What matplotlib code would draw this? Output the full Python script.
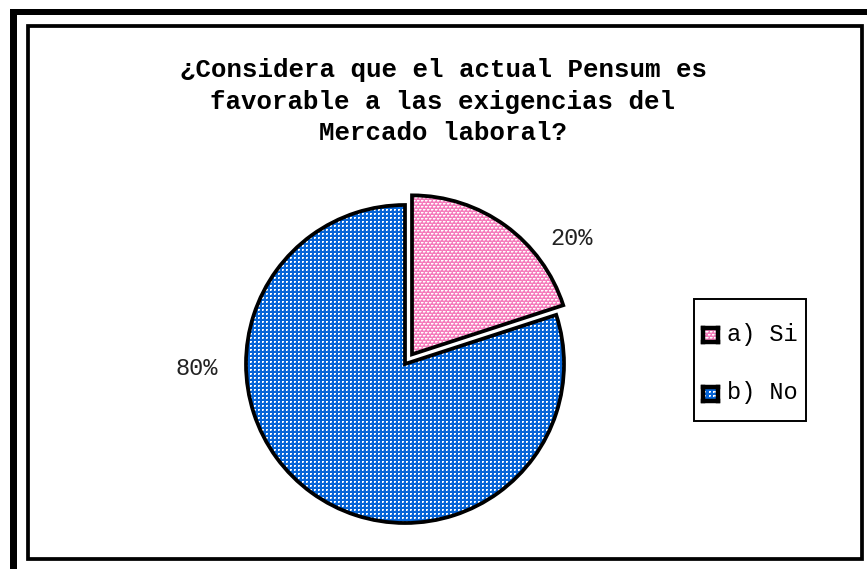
import numpy as np
import matplotlib
matplotlib.use("Agg")
import matplotlib.pyplot as plt
from matplotlib.patches import Rectangle

# Survey answers
categories = ["a) Si", "b) No"]
percentages = [20, 80]
title_lines = [
    "¿Considera que el actual Pensum es",
    "favorable a las exigencias del",
    "Mercado laboral?",
]

W, H = 867, 569
fig = plt.figure(figsize=(W / 100, H / 100), dpi=100)
fig.patch.set_facecolor("white")


def fx(px):
    return px / W


def fy(py):
    return 1 - py / H


def frame_rect(x0, y0, x1, y1, lw):
    r = Rectangle((fx(x0), fy(y1)), fx(x1) - fx(x0), fy(y0) - fy(y1),
                  transform=fig.transFigure, fill=False,
                  edgecolor="black", linewidth=lw)
    fig.add_artist(r)
    return r


# Heavy outer border (top and left only) plus the chart area frame
fig.add_artist(Rectangle((fx(10), fy(15)), fx(867) - fx(10), fy(9) - fy(15),
                         transform=fig.transFigure, facecolor="black",
                         edgecolor="none"))
fig.add_artist(Rectangle((fx(10), fy(569)), fx(17) - fx(10), fy(9) - fy(569),
                         transform=fig.transFigure, facecolor="black",
                         edgecolor="none"))
frame_rect(28, 25.5, 862, 559, 2.7)

# Title
for i, line in enumerate(title_lines):
    fig.text(fx(443), fy(70 + i * 31.5), line, ha="center", va="center",
             family="Liberation Mono", weight="bold", fontsize=18.5,
             color="black")


# Fill textures: 0 = base colour, 1 = white, 2 = pale tint
def make_texture(n, base, tile):
    base = np.array(base, dtype=float) / 255
    th, tw = tile.shape
    t = np.tile(tile, (n // th + 1, n // tw + 1))[:n, :n]
    img = np.empty((n, n, 3))
    white = np.ones(3)
    img[:] = base
    img[t == 1] = white
    img[t == 2] = base * 0.45 + white * 0.55
    return img


blue_tile = np.array([
    [0, 0, 0, 0],
    [0, 1, 1, 0],
    [0, 1, 2, 0],
    [0, 0, 0, 0],
])
pink_tile = np.array([
    [1, 1, 2, 0],
    [2, 2, 0, 0],
    [0, 0, 0, 0],
    [2, 0, 1, 1],
    [0, 0, 2, 2],
    [0, 0, 0, 0],
])

pink_base = (245, 125, 188)
blue_base = (5, 100, 215)

# Pie axes: centre at (405, 364) px, 159 px per data unit
half = 200
cx, cy = 405, 364
ax = fig.add_axes([fx(cx - half), fy(cy + half), 2 * half / W, 2 * half / H])
wedges, _ = ax.pie(percentages, startangle=90, counterclock=False,
                   explode=[0.075, 0], radius=1,
                   colors=[np.array(pink_base) / 255, np.array(blue_base) / 255],
                   wedgeprops=dict(edgecolor="black", linewidth=2.7))
lim = half / 159
ax.set_xlim(-lim, lim)
ax.set_ylim(-lim, lim)
ax.axis("off")

n = 2 * half
for w, base, tile in zip(wedges, [pink_base, blue_base], [pink_tile, blue_tile]):
    im = ax.imshow(make_texture(n, base, tile), extent=(-lim, lim, -lim, lim),
                   interpolation="nearest", zorder=1)
    im.set_clip_path(w)
    w.set_zorder(2)
    w.set_facecolor("none")

# Percentage labels
label_pos = [(1.05, 0.79), (-1.31, -0.03)]
for (lx, ly), v in zip(label_pos, percentages):
    ax.text(lx, ly, f"{v}%", ha="center", va="center",
            family="Liberation Mono", fontsize=17, color="#222222")

# Legend box
frame_rect(693.5, 298.5, 806, 421, 1.4)
legend_rows = [334, 393]
for y, base, tile, label in zip(legend_rows, [pink_base, blue_base],
                                [pink_tile, blue_tile], categories):
    sw = fig.add_axes([fx(703), fy(y + 7.5), 15 / W, 14 / H])
    sw.imshow(make_texture(14, base, tile), interpolation="nearest",
              extent=(0, 1, 0, 1), aspect="auto")
    sw.set_xticks([])
    sw.set_yticks([])
    for s in sw.spines.values():
        s.set_linewidth(3.2)
        s.set_color("black")
    fig.text(fx(727), fy(y), label, ha="left", va="center",
             family="Liberation Mono", fontsize=17, color="black")

fig.savefig("out.png", dpi=100, facecolor="white")
